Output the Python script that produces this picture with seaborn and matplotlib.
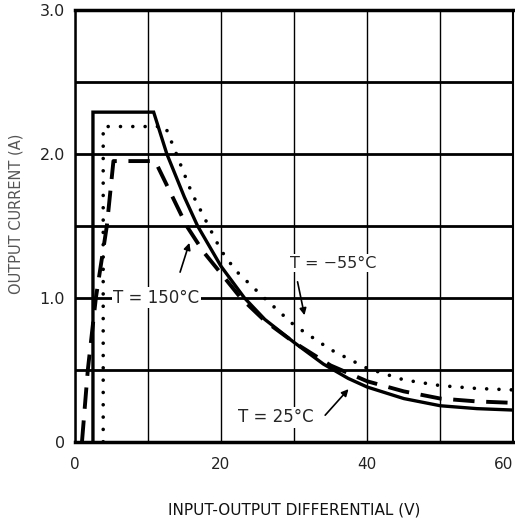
"""
Output current vs input-output differential (regulator SOA curves)
"""

import numpy as np
import pandas as pd
import matplotlib
matplotlib.use("Agg")
import matplotlib.pyplot as plt
import seaborn as sns

# ── data ──────────────────────────────────────────────────
t25_x = [2.5, 2.5, 10.8, 12.6, 15.0, 16.8, 20.0, 23.2, 26.0, 30.0, 34.0, 37.4, 40.0, 45.0, 50.0, 55.0, 60.0]
t25_y = [0.0, 2.29, 2.29, 2.00, 1.70, 1.50, 1.22, 1.00, 0.85, 0.69, 0.54, 0.44, 0.38, 0.30, 0.25, 0.23, 0.22]

tm55_x = [3.9, 3.9, 12.4, 13.9, 16.0, 18.3, 20.0, 22.0, 25.9, 30.0, 35.0, 40.0, 45.0, 50.0, 55.0, 60.0]
tm55_y = [0.0, 2.19, 2.19, 2.00, 1.73, 1.50, 1.33, 1.19, 1.00, 0.81, 0.64, 0.51, 0.43, 0.39, 0.37, 0.36]

t150_x = [1.0, 1.8, 2.9, 4.4, 5.3, 11.0, 13.2, 15.3, 17.6, 20.0, 22.7, 26.0, 30.0, 35.0, 40.0, 45.0, 50.0, 55.0, 60.0]
t150_y = [0.0, 0.50, 1.00, 1.50, 1.95, 1.95, 1.72, 1.50, 1.32, 1.17, 1.00, 0.84, 0.69, 0.53, 0.42, 0.35, 0.30, 0.28, 0.27]

x_ticks = [0, 10, 20, 30, 40, 50, 60]
x_labels = ["0", "", "20", "", "40", "", "60"]
y_ticks = [0, 0.5, 1.0, 1.5, 2.0, 2.5, 3.0]
y_labels = ["0", "", "1.0", "", "2.0", "", "3.0"]

sns.set_theme(style="white")
plt.rcParams["font.family"] = ["DejaVu Sans"]

fig = plt.figure(figsize=(5.15, 5.24), dpi=100)
ax = fig.add_axes([0.145, 0.157, 0.852, 0.824])

ax.set_xlim(0, 60)
ax.set_ylim(0, 3.0)
ax.set_xticks(x_ticks)
ax.set_xticklabels(x_labels, fontsize=11)
ax.get_xticklabels()[-1].set_horizontalalignment("right")
ax.set_yticks(y_ticks)
ax.set_yticklabels(y_labels, fontsize=11.5)
ax.tick_params(axis="both", length=0, colors="#222222")
ax.tick_params(axis="x", pad=11)
ax.tick_params(axis="y", pad=7)

ax.xaxis.grid(True, color="black", lw=1.0)
ax.yaxis.grid(True, color="black", lw=2.0)
ax.set_axisbelow(True)
for side, w in [("top", 2.5), ("bottom", 2.5), ("left", 1.8), ("right", 1.5)]:
    ax.spines[side].set_color("black")
    ax.spines[side].set_linewidth(w)

# curves
sns.lineplot(x=t25_x, y=t25_y, sort=False, estimator=None, ax=ax,
             color="black", lw=2.4, solid_joinstyle="miter")
sns.lineplot(x=tm55_x, y=tm55_y, sort=False, estimator=None, ax=ax,
             color="black", lw=2.6, dashes=False)
ax.lines[-1].set_linestyle((0, (0.01, 3.4)))
ax.lines[-1].set_dash_capstyle("round")
sns.lineplot(x=t150_x, y=t150_y, sort=False, estimator=None, ax=ax,
             color="black", lw=2.8)
ax.lines[-1].set_linestyle((0, (5.5, 3)))

# labels with arrows
ax.text(5.3, 1.0, "T = 150°C", fontsize=12, va="center", ha="left",
        bbox=dict(facecolor="white", edgecolor="none", pad=1))
ax.annotate("", xy=(15.8, 1.40), xytext=(14.3, 1.16),
            arrowprops=dict(arrowstyle="-|>", color="black", lw=1.2, mutation_scale=10))
ax.text(29.5, 1.24, "T = \u221255°C", fontsize=11.5, va="center", ha="left",
        bbox=dict(facecolor="white", edgecolor="none", pad=1))
ax.annotate("", xy=(31.5, 0.86), xytext=(30.4, 1.13),
            arrowprops=dict(arrowstyle="-|>", color="black", lw=1.2, mutation_scale=10))
ax.text(22.4, 0.17, "T = 25°C", fontsize=12, va="center", ha="left",
        bbox=dict(facecolor="white", edgecolor="none", pad=1))
ax.annotate("", xy=(37.7, 0.38), xytext=(34.0, 0.17),
            arrowprops=dict(arrowstyle="-|>", color="black", lw=1.2, mutation_scale=10))

ax.set_xlabel("INPUT-OUTPUT DIFFERENTIAL (V)", fontsize=11, color="#111111")
ax.xaxis.set_label_coords(0.5, -0.141)
ax.set_ylabel("OUTPUT CURRENT (A)", fontsize=10.5, color="#555555")
ax.yaxis.set_label_coords(-0.116, 0.528)

fig.savefig("out.png", dpi=100)
plt.close(fig)
